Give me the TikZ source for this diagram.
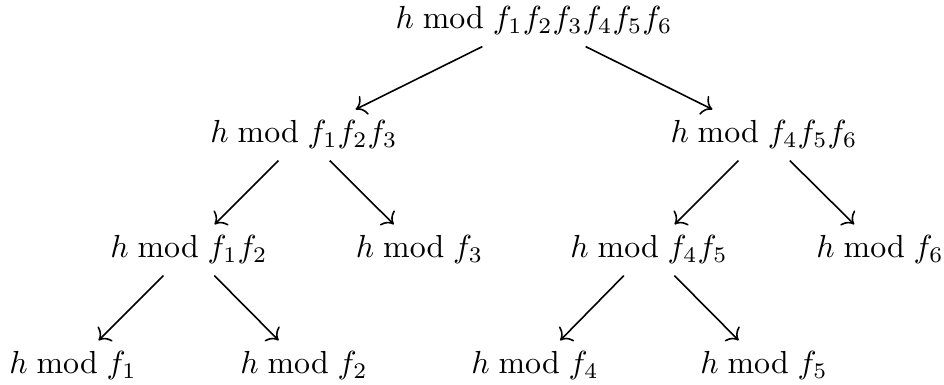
\documentclass[tikz,border=0pt]{standalone}
\usepackage{tikz}
\usetikzlibrary{cd}

\begin{document}
\begin{tikzpicture}[>=cm to, line width=0.5pt]
  \useasboundingbox (0,0) rectangle (10.4,-4.241);

  \tikzset{rest/.style={}}

  \node[rest] (r) at (5.883,-0.231) {$h \bmod f_1f_2f_3f_4f_5f_6$};

  \node[rest] (a) at (3.349,-1.487) {$h \bmod f_1f_2f_3$};
  \node[rest] (b) at (8.417,-1.487) {$h \bmod f_4f_5f_6$};

  \node[rest] (aa) at (2.082,-2.754) {$h \bmod f_1f_2$};
  \node[rest] (ab) at (4.622,-2.754) {$h \bmod f_3$};
  \node[rest] (ba) at (7.150,-2.754) {$h \bmod f_4f_5$};
  \node[rest] (bb) at (9.695,-2.754) {$h \bmod f_6$};

  \node[rest] (aaa) at (0.804,-4.032) {$h \bmod f_1$};
  \node[rest] (aab) at (3.349,-4.032) {$h \bmod f_2$};
  \node[rest] (baa) at (5.894,-4.032) {$h \bmod f_4$};
  \node[rest] (bab) at (8.417,-4.032) {$h \bmod f_5$};

  \draw[->] (r) -- (a);
  \draw[->] (r) -- (b);
  \draw[->] (a) -- (aa);
  \draw[->] (a) -- (ab);
  \draw[->] (b) -- (ba);
  \draw[->] (b) -- (bb);
  \draw[->] (aa) -- (aaa);
  \draw[->] (aa) -- (aab);
  \draw[->] (ba) -- (baa);
  \draw[->] (ba) -- (bab);
\end{tikzpicture}
\end{document}
